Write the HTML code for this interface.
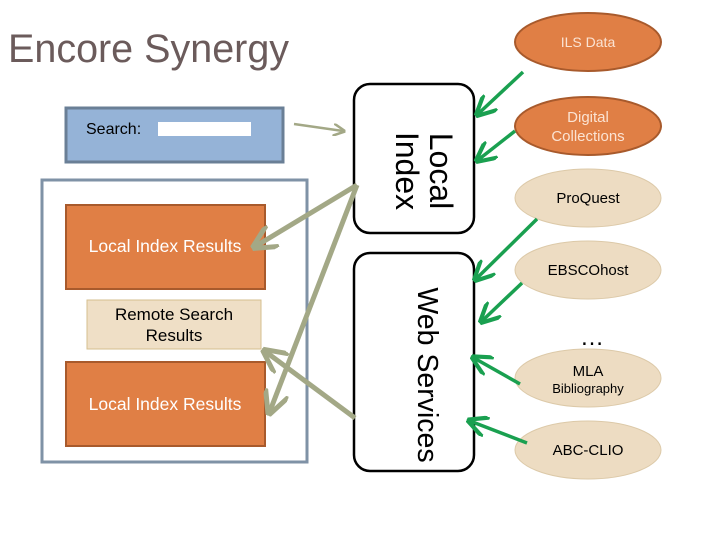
<!DOCTYPE html>
<html><head><style>
body{margin:0;width:720px;height:540px;background:#fff;overflow:hidden;font-family:"Liberation Sans",sans-serif}
</style></head><body>
<svg width="720" height="540" xmlns="http://www.w3.org/2000/svg" font-family="Liberation Sans, sans-serif">
<defs>
<marker id="g" markerWidth="6" markerHeight="6" refX="5" refY="3" orient="auto" markerUnits="strokeWidth"><path d="M0,0 L6,3 L0,6" fill="none" stroke="#1aa050" stroke-width="1.2"/></marker>
<marker id="t" markerWidth="5" markerHeight="5" refX="4" refY="2.5" orient="auto" markerUnits="strokeWidth"><path d="M0,0 L5,2.5 L0,5" fill="none" stroke="#a3a886" stroke-width="1"/></marker>
</defs>
<text x="8" y="62" font-size="39.5" fill="#6b5b5b">Encore Synergy</text>
<rect x="66" y="108" width="217" height="54" fill="#95b3d7" stroke="#6a7f96" stroke-width="3"/>
<text x="86" y="134" font-size="16" fill="#000">Search:</text>
<rect x="158" y="122" width="93" height="14" fill="#fff"/>
<rect x="42" y="180" width="265" height="282" fill="#fff" stroke="#7f92a6" stroke-width="3"/>
<rect x="66" y="205" width="199" height="84" fill="#e07f45" stroke="#a85a2c" stroke-width="2"/>
<text x="165" y="252" font-size="17.5" fill="#fff" text-anchor="middle">Local Index Results</text>
<rect x="87" y="300" width="174" height="49" fill="#efdfc6" stroke="#d6bf8f" stroke-width="1"/>
<text x="174" y="320" font-size="17" fill="#000" text-anchor="middle">Remote Search</text>
<text x="174" y="341" font-size="17" fill="#000" text-anchor="middle">Results</text>
<rect x="66" y="362" width="199" height="84" fill="#e07f45" stroke="#a85a2c" stroke-width="2"/>
<text x="165" y="410" font-size="17.5" fill="#fff" text-anchor="middle">Local Index Results</text>
<rect x="354" y="84" width="120" height="149" rx="16" fill="#fff" stroke="#000" stroke-width="2.5"/>
<text transform="translate(430,171) rotate(90)" font-size="32" text-anchor="middle">Local</text>
<text transform="translate(396,171) rotate(90)" font-size="32" text-anchor="middle">Index</text>
<rect x="354" y="253" width="120" height="218" rx="16" fill="#fff" stroke="#000" stroke-width="2.5"/>
<text transform="translate(418,375) rotate(90)" font-size="28.5" text-anchor="middle">Web Services</text>
<g font-size="15" text-anchor="middle">
<ellipse cx="588" cy="42" rx="73" ry="29" fill="#e07f45" stroke="#a85a2c" stroke-width="2"/>
<text x="588" y="47" fill="#fbe3d3" font-size="14">ILS Data</text>
<ellipse cx="588" cy="126" rx="73" ry="29" fill="#e07f45" stroke="#a85a2c" stroke-width="2"/>
<text x="588" y="122" fill="#fbe3d3">Digital</text>
<text x="588" y="141" fill="#fbe3d3">Collections</text>
<ellipse cx="588" cy="198" rx="73" ry="29" fill="#eddcc2" stroke="#dcc9a8" stroke-width="1"/>
<text x="588" y="203">ProQuest</text>
<ellipse cx="588" cy="270" rx="73" ry="29" fill="#eddcc2" stroke="#dcc9a8" stroke-width="1"/>
<text x="588" y="275">EBSCOhost</text>
<text x="592" y="345" font-size="24">…</text>
<ellipse cx="588" cy="378" rx="73" ry="29" fill="#eddcc2" stroke="#dcc9a8" stroke-width="1"/>
<text x="588" y="376">MLA</text>
<text x="588" y="393" font-size="13">Bibliography</text>
<ellipse cx="588" cy="450" rx="73" ry="29" fill="#eddcc2" stroke="#dcc9a8" stroke-width="1"/>
<text x="588" y="455">ABC-CLIO</text>
</g>
<g stroke="#1aa050" stroke-width="3.5" marker-end="url(#g)">
<line x1="523" y1="72" x2="478" y2="114"/>
<line x1="515" y1="131" x2="478" y2="160"/>
<line x1="537" y1="219" x2="476" y2="279"/>
<line x1="522" y1="283" x2="482" y2="321"/>
<line x1="520" y1="384" x2="474" y2="358"/>
<line x1="527" y1="443" x2="470" y2="421"/>
</g>
<line x1="294" y1="124" x2="343" y2="131" stroke="#a3a886" stroke-width="2.5" marker-end="url(#t)"/>
<g stroke="#a3a886" stroke-width="5" marker-end="url(#t)">
<line x1="357" y1="185" x2="256" y2="246"/>
<line x1="357" y1="185" x2="270" y2="411"/>
<line x1="355" y1="418" x2="266" y2="352"/>
</g>
</svg>
</body></html>
